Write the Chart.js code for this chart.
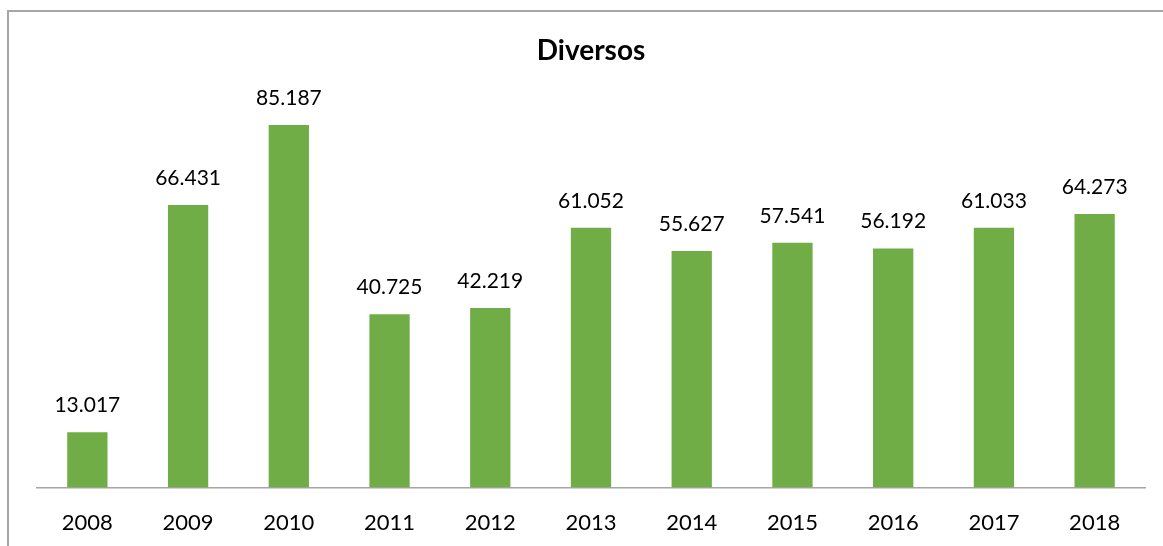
<!DOCTYPE html>
<html>
<head>
<meta charset="utf-8">
<script src="https://cdn.jsdelivr.net/npm/chart.js@4"></script>
<style>
    html, body { margin: 0; padding: 0; background: #fff; overflow: hidden; width: 1163px; height: 546px; }
    #frame { position: absolute; left: 7px; top: 10px; width: 1180px; height: 560px; border: 2px solid #a6a6a6; box-sizing: border-box; }
    #myChart { position: absolute; left: 0; top: 0; }
</style>
</head>
<body>
<div id="frame"></div>
<canvas id="myChart" width="1163" height="558"></canvas>
<script>
const years = ['2008', '2009', '2010', '2011', '2012', '2013', '2014', '2015', '2016', '2017', '2018'];
const diversos = [13017, 66431, 85187, 40725, 42219, 61052, 55627, 57541, 56192, 61033, 64273];

// numbers shown with a dot as thousands separator (pt-BR style)
function fmt(v) {
    return String(v).replace(/\B(?=(\d{3})+(?!\d))/g, '.');
}

const valueLabels = {
    id: 'valueLabels',
    afterDatasetsDraw(chart) {
        const ctx = chart.ctx;
        const meta = chart.getDatasetMeta(0);
        ctx.save();
        ctx.font = '21px Lato';
        ctx.fillStyle = '#000';
        ctx.textAlign = 'center';
        ctx.textBaseline = 'alphabetic';
        meta.data.forEach((bar, i) => {
            ctx.fillText(fmt(diversos[i]), bar.x, bar.y - 20);
        });
        ctx.restore();
    }
};

var ctx = document.getElementById('myChart').getContext('2d');
new Chart(ctx, {
    type: 'bar',
    data: {
        labels: years,
        datasets: [{
            label: 'Diversos',
            data: diversos,
            backgroundColor: '#70ad47',
            barPercentage: 0.4,
            categoryPercentage: 1
        }]
    },
    options: {
        responsive: false,
        animation: false,
        devicePixelRatio: 1,
        layout: { padding: { left: 37, right: 18, top: 0, bottom: 0 } },
        plugins: {
            legend: { display: false },
            tooltip: { enabled: false },
            title: {
                display: true,
                text: 'Diversos',
                color: '#000',
                font: { family: 'Lato', size: 28, weight: 'bold' },
                padding: { top: 34, bottom: 37 }
            }
        },
        scales: {
            x: {
                grid: { display: false, drawTicks: false },
                border: { display: true, color: '#a6a6a6', width: 1.5 },
                ticks: { color: '#000', font: { family: 'Lato', size: 22 }, padding: 22 }
            },
            y: {
                display: false,
                min: 0,
                max: 90000
            }
        }
    },
    plugins: [valueLabels]
});
</script>
</body>
</html>
